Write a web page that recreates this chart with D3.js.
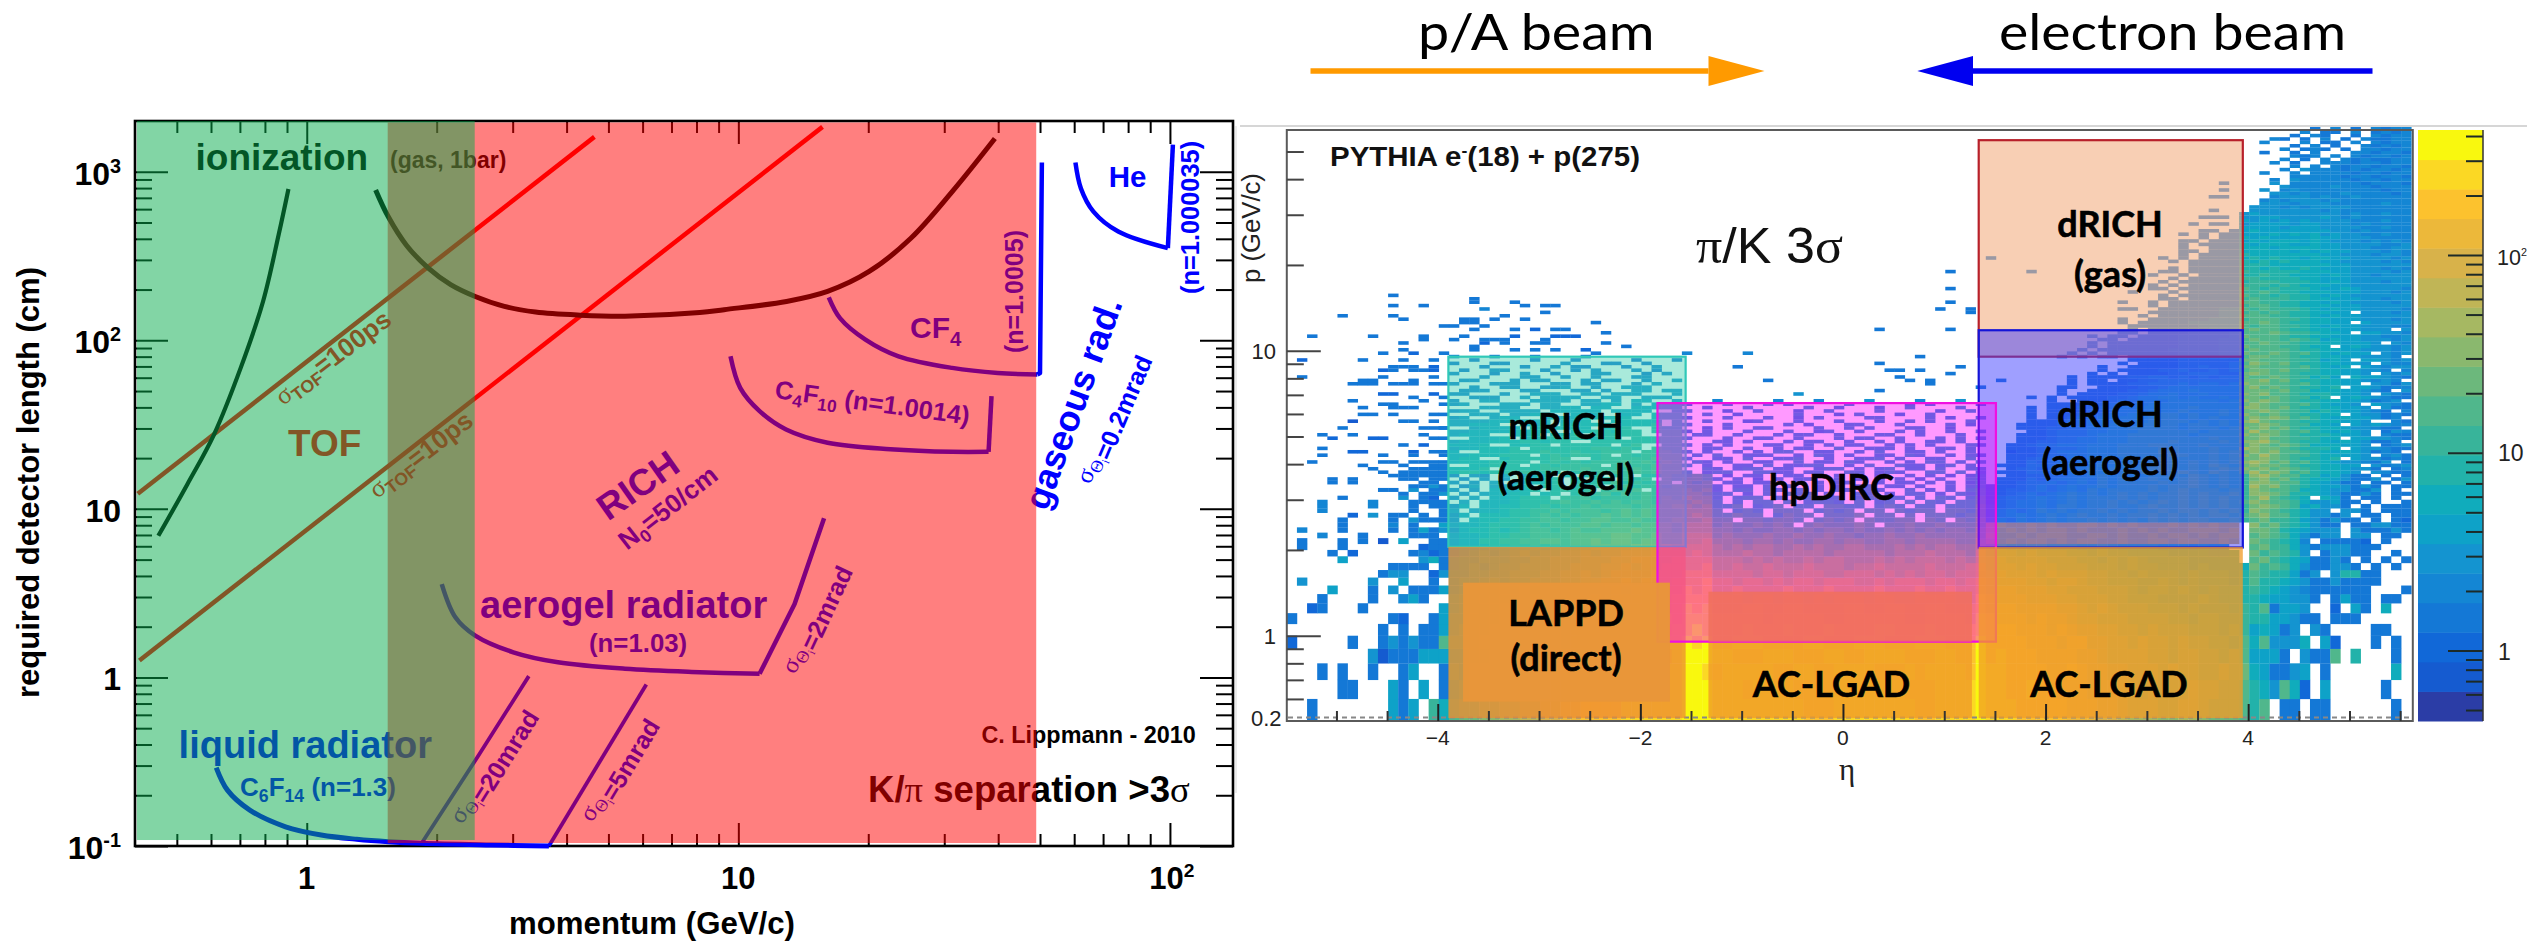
<!DOCTYPE html>
<html><head><meta charset="utf-8">
<script src="https://cdnjs.cloudflare.com/ajax/libs/d3/7.8.5/d3.min.js"></script>
<style>
html,body{margin:0;padding:0;background:#fff;overflow:hidden}
svg{display:block}
text{font-family:"Liberation Sans",Arial,sans-serif}
</style></head><body><svg id="c" width="2527" height="944"></svg>
<script>
/* ---------- left chart : values (momentum GeV/c, length cm) ---------- */
const tof100 = [[0.406,12.3],[4.64,1610]];
const tof10 = [[0.4095,1.26],[15.67,1846]];
const ionLeft = [[0.453,6.92],[0.529,14],[0.61,27.7],[0.703,68.6],[0.792,170],[0.861,424],[0.907,790]];
const ionRight = [[1.444,780],[1.544,542],[1.70,368],[1.913,268],[2.155,214],[2.457,182],[2.87,159],[3.39,147],[4.30,141],[5.46,139],[8.14,146],[9.27,152],[12.93,170],[16.1,195],[20.1,256],[25.1,403],[31.3,762],[39.3,1574]];
const cf4 = [[16.2,180],[17.2,135.5],[19.7,101],[23.5,80.4],[31.3,68.6],[39.9,64],[49.3,62.7],[50,64],[50.5,1135]];
const c4f10 = [[9.59,80.4],[10.1,52.2],[11.2,38],[12.9,29.6],[16.1,24.7],[22.5,22.6],[31.3,21.8],[38,21.8],[38.6,46.6]];
const helium = [[60.4,1135],[62.2,796],[66.5,580],[75.9,442],[98.9,352],[101.6,1450]];
const aerogel = [[2.055,3.58],[2.21,2.275],[2.457,1.77],[3.01,1.41],[3.82,1.23],[5.46,1.126],[8.14,1.075],[11.2,1.05],[12.35,1.73],[13.5,2.73],[15.8,8.81]];
const liquid = [[0.617,0.292],[0.655,0.2145],[0.738,0.1633],[0.893,0.13],[1.08,0.1162],[1.306,0.1096],[1.544,0.106],[1.846,0.1037],[2.67,0.1014],[3.64,0.1]];
const mrad20 = [[1.846,0.1037],[2.487,0.3375],[3.27,1.018]];
const mrad5 = [[3.64,0.1],[6.12,0.909]];
const greenBand = {p:[0.404,2.45],L:[0.1085,2000]};
const redBand = {p:[1.54,49],L:[0.1042,1960]};
const leftMajorX=[1,10,100], leftMinorX=[0.5,0.6,0.7,0.8,0.9,2,3,4,5,6,7,8,9,20,30,40,50,60,70,80,90];
const leftMajorY=[0.1,1,10,100,1000];
const leftMinorY=[0.2,0.3,0.4,0.5,0.6,0.7,0.8,0.9,2,3,4,5,6,7,8,9,20,30,40,50,60,70,80,90,200,300,400,500,600,700,800,900];

/* ---------- right chart : axes, boxes ---------- */
const etaMajor=[-4,-2,0,2,4], etaMinor=[-5,-4.5,-3.5,-3,-2.5,-1.5,-1,-0.5,0.5,1,1.5,2.5,3,3.5,4.5,5,5.5];
const pTickValues=[0.5,1,10], pTickLabels=["0.2","1","10"];
const pMinor=[0.6,0.7,0.8,0.9,2,3,4,5,6,7,8,9,20,30,40,50];
const colorBands=["#2b3da6","#155bd0","#1168d8","#1478d6","#1486d4","#1494d0","#0ea2c8","#10acbc","#22b2aa","#38b49a","#50b78c","#6cb87c","#8ab86e","#a6b862","#c0b556","#d8b24a","#ecb83a","#fcc22e","#fbd824","#f9f80e"];
const zMajor=[1,10,100], zMinor=[0.5,0.6,0.7,0.8,0.9,2,3,4,5,6,7,8,9,20,30,40,50,60,70,80,90,200,300,400];
const pEdgesLow=[0.5,0.6,0.7,0.8,0.9,1,1.1,1.2,1.3,1.4,1.5,1.6,1.7,1.8,1.9,2,2.1,2.2,2.3,2.4,2.5,2.6,2.7,2.8,2.9,3,3.1,3.2,3.3,3.4,3.5,3.6,3.7];

/* histogram levels (0-9a-j = colour band, . = empty), bottom row first */
const histLowLeft=[
"..3.......636.97",".....33...63.6.3","...3.3..3..36..3","........51333666","2.....3..353533a",
".........3.3.336","3.........32..36","..23...3.......6","...3....3..463..","....6...3.5.3336",
".5......5..6..3.",".........355..25","..........3333.3",".....6.......573","....3.2.....3423",
".3...3.......233",".3...3.3.1.6..33","...4...3....333.",".4...3....3.3635",".....3....4.3..6",
".....3....3.5333","......2.5.33.3.3","...4........3..3","...4....4...3.33","...4....4...3333",
".....3.....5.32.","...........3.335",".........33.5.33","............3353","....3.3......33.",
"....3.3....33.33","..........333333"];

const histLowMid=[
"abbccddeeffgghhhhiiiiii jjj iiiiiiiiihhhiiiiiiiihhiiii j iiihhhhhgggffedddccddcbbba",
"9abcbcddeefgghhgiihiiii jjj iiihiiiihhhhiiiiiiihhhiiii j iihhihhgggfffedcdcccdccbba",
"a9bbccdedefgghghhhiihii jji hiiiiihhiihhiiiihhhihiiiih j iihhhhgghgffeedddcdccbbcbb",
"99aabbcddeefgfghhhiiihi jjj iihhhiiihhhiihhiiiihhhiihh j hihhhggggffeddddccbccbbaba",
"aa9bccbddeeefgghghhhiii jij hhiiihhhhiihhhiiihhhiiihhh j hhhhgggfggeeddcdccbcbbaa9a",
"9a9abbccddeefggghhhhihi iji hhhihhhihhhihhhhiihhhihhhh i hhhgggfgfeeddccbcbbbaaa9a9",
"99a9abbccdeeefgfgghhhih iii hhhhhghhhhhgghhhhhhgghhhhg i hgggfgffeddcccbbbbaa9aa999",
"8999abbbcdddeffffgghhgh ihi ggghhgghhgggghhgghhgghhggg h gggffffeedcdcbbbaaa9a99989",
"898a9aabbcddeefefgfgggh hhh gggfggfggfgfgggfggffggggff h gfffeeeddcccbbaaa9999a9888",
"78899aababccddeefeffggg hgh ffgffffgfffgffffgfffgffgff g fffeeeddcccbbba9aa9a989888",
"7889a9aabbbccddeefefffg ggh ffeffefeffefffeefefffeffef g feeeddcddcbbaaa99a98988878",
"778899aaabbccdcdeeeefff ggg eeeedeedeeeddeeedededeedee f eedddcdcccbbaa9a9998988878",
"6787899aaabbcccddedeeff ffg ddeddedddedddcddeddddeddde f dddcdccbbbaaa9a99888787777",
"67788899aabbbcccddeeeef fff dddcdcdccdcddcccdcdcdddcdc e ddccccbbbaa9a9a9888877777",
"5678789a9aabbcbccdddeee efe cccdccbccccbcccccbcccdcccb e cccbcbbbaa9a9988887777667",
"56678899a9aabbccccddded eee cbcbccbbcbcbbccbbbcbcbccbb d ccbbbbaaa99a988887776766",
"5668899aabbabbcbccbccbb dde bbbabbabaabbabbaabbabbbbaa d ffgfggfgfggffgffggfggffgf",
"56678899aaaabbbbccbbcbb ddd abaaabaabaabaa9aabaabaaaaa c gffgfgggffggfgffgfggfgfgg",
"46778789aa9abaabbbcbbba ccc aa9a99aa9a9aa9a99a9a9a9aa9 c ffgfgfggfgfffgfgfgffgggfg",
"56678889a9aaabbabbabbba ccc 9a99a9a9.9a999a9.99a99a999 b fgffgfgffggfgfgfffgfgfgff",
"4.6778899aa9aabbaabaaab bbc 99.998998.8989.98899.98.98 b 5657678788989898a9a9aa99a9",
"46.777889a9a9aabababaaa bcb 88988.7988.8889.88.8.88878 a 4567678789889899a9a9a9aa9a",
"5.56678899a9aaa9ababaaa bbb 8.787.888.7878.88.8788.887 a 45656878788989899a9aa9a9a9",
"46.6677889899a9aaa9aaab bab 778.678.77.8877.787.77.777 a 4456676887889889a99a9a9a99",
".5.66678889a99a9a9aa9aa aba 7.6.77.7.6776.7.67.7.76.77 9 34566767878898989a9a9a9a9a",
"4.5.667888.99a89999a9a9 baa 6.677.6..7.66.67676.6.76.6 9 3455676787888989899a9a9a99",
".4.56677.78.8a9a8a9a999 aa9 66.5.6.766.5..66.5.66.5.65 8 3345656787878989899a9a99a9",
"4.4.66678.8989.9a9a.999 a9a 5.66.65.6.5.65.65..6.5.5.6 8 3344565676878888989a999899",
".35.5567.88.889.9a89989 999 5.55.6.5..5.5.56.55.5..5.5 7 33345656767878889899a98989",
"4.4.5.56778.8788a89899. 989 .55.55..5.5.55..5.55.5.5.4 7 .3345565676878888989a98989",
".3.4.4.6678.7.88.989.98 998 5.5.4.5.55..5.4.5.5.4.5..5 6 .3335456676878789889a98989",
"3.43.5.566.7.78.89.8898 898 .4.55..55.4.5.5.4..5.5.4.4 6 ..334455667878778898a98989"];

const histLowRight=[
"8a.33.33......3..","875a72.6.....3...","763356.3......7..","6663.533a.8...3..","7a5557.62...3.3..",
"67635.53....33...","8866533.333......","8a3665..2.63.7...","8766553.3633.33..","987654333333...3.",
"a887653353333....","a988635.58833....","b9a97533553.3.3..","ab98763353.3.3.33","b9a985.35533..3..",
"ab99753555333....","ba9874.33332.3...","aba975355.55.33..","bba876555.533353.","cab987533.33553 3.",
"ab998653533.3.322","bcaa875535.33.333","cba98755.553.333.","bcba967553.3.3333","cbaa9755633.3..3.",
"bda987.763.33.3.3","ccba887653353.333","cbaa977655335.3.3","dbca987665353.333","ccbaa876533.33.3.",
"bcab987765335.353","cdbaa8867533.3.33"];

/* log-spaced rows above p = 3.7, index 0 at the bottom. mRICH | strip+hpDIRC | forward (ends at eta 3.95) */
const histUpperMid=[
"78878899988.899aa9a9a99 7.566..6655.56..66.565..66.6.5 3335556678778898a9a98a989",
"7778.88889999a9999a9a99 ..65.566.55..566.5.56.55.6..56 .345456678787889a98989a98",
"..77888.8989999.9a99a99 6.5..55.6.5566..5.6..655.56.5. 3335556777878889a9898a988",
"67778888.89898999a9a9a9 .65.5..55..6.55.65..5.5.66.5.6 .335456677787888a9898989a",
"677..7888899..899999a99 5..55.6..556..5..556.5..55..6. 334555667877889a98889898",
"66777888.8989989.989999 .5.6..555..5.65.5..55.65..5.55 3334556677788889a9889898",
"6..777888988988999.9998 5.5..5.5.66..55..5.6..55.5..5. 233456667778888a98889898",
"5667778.88888899898.988 ..55..5..5.55..6..555.5..55.5. 333455567778888998889888",
"6667..7788.88888.89..88 5.5.5...55..5.5.55..5.5.5...55 334556667778889988898889",
"566677788788..888888888 ...55.5...5.55..5..5.5..55.5.. .33445566777888898888988",
"..6667.7788888788.88888 5...5..55..5...5.55..5...5.5.5 33345566777888888889888",
"5666..777.778.88888..88 .55..5...5.55..5...55..5...5.. 33345556777888888788888",
"5566667777..7788788.888 4.5...5...5..45..5...5.5..5..5 .3345556677788888878888",
"..56666.777777.788..877 ..4.5..55....5..5.5...55..4... 33344556677888887888788",
"55666..666.77777.7778.7 5...5.....5.4...55...5....5.4. 33334556677788887887878",
"5555666666.667..77777.7 ..5...45...5...5...5..5.5...5. 3334556667778888787877",
"45..566..666677777..777 4...5...5..4.5....55....5.4..5 3.33455667778887878777",
"..555.5566..666..66.777 ..5..4.....5...4.5...4..5..... 3.33345566777887877877",
"455..5555.66666.6666..6 5...4..5...4..5....5.....4..5. ..33334456667778777877",
"...5555..5566.66..66666 ..4...5.....5..4...4..5....5.. 3.33344556677777877777",
"45...555.55..5566.5.666 4...5...5.4.....5.....4.4....4 33334455667777777776",
"4..55...5555.55.5.66..5 ...4.....4...4....5....4...5.. 3..33345566677777676",
"..444..5.5555..55..555. .............................. 3.333344566776766766",
"44...4..555..55.555...5 ...........5.................. 3.33334456676676666",
".444...44...44.4..55.55 ...................3.......... 3..3333445666766666",
"..4..44..445..4..555... .............................3 3..333344566666666",
"4...444...44.44...4.5.. ........................3..... 3.3333445556566566",
".44...4.44...4.44..4..5 ........3.............3.3..... 3.33.3344555555555",
"...4...44..4..4...44... .....................3........ 3.3333445545454554",
"4...3..4..3...44...3.4. ..........................3... .3.333344555445",
".3..44...3..3.4...4.3.. ....................33.3...... 3.3333445445454",
"...3...3..4.33...3..4.. .....3.....................3.. 3..333334454454",
"3...33.....4...33..3... ...................3.......... 3.33334444454",
"..3.....3...3.....3...3 .............................. 333334444445"];

const histRight=[
"bdbcb9a87765.5433","cbcaba98776553.34","bcbba9887766.5345","cdcab9a87655435.3","bbcba98878.655343",
"cbdba99877665.453","bcbcaa9876765343.","dcbba98887.655433","bcbaba9777665.345","ccdba98876765334.",
"bbcaa99877.665543","cbcba98887665.433","bdbba9a876765.354","cbcab98877655433.","bbcba99776.656544",
"cdbaa98877665..43","bcbcb9a876766534.","cbaba98877.655343","bbcba9978766543.4","ccbab98877665.533",
"bcbaa9a87665.6543","cbcba98877665345.","bbaba9978.6765433","cbcaa98887665.543","bbbab9977766543.5",
"bcaba98878.665344","cbbaa9a87766.5535","bbcab98877665454.","baaba99786.766543","bcbaa98877665.545",
"abbab9987766554.4","bbaaa9a8767.65455","acbab98877665.544","bbaaa998676.66545","abbaa98877665554.",
"baaba9a876766.545","abaaa988776655545","baaa99877.6765545","aabaa988776665.54","abaa9a98676655545",
"baaa9887766655445","aaaba998776.66554","abaa98877666555.5","a9aa9987676655544","aaba9887766.65555",
"9aaa9987766655545","aaa99887676655555","9a9a9887766.55545","a9a99987676655554","9aa98877766655555",
"aa998877676555545","9a999887766655455","a9989887676555555","99a98877766655545","a9898887667655554",
"99989877766555555","89998887676555455","99888877666555555","88988777676554555","98888877766555545",
"88787787666555454","88877777766555555","87878777665555454","78787767766555545","87777777665554554",
"77777676766555454","77767777665554455","76777667665555445","67677767655545454","76766667665554444",
"66676767565544544","67666666655454444","66665666555544544","56666566555454444","65656565555444544",
"55665555654544444","56555555554544544",".5555555454444444",".5554545555444444","..555455544444544",
"..454555454444444","...45554544544444","...55454445444434","..5.4544444444344","....5444454443444",
"...5.444444434443","...4.544444344344",".....444443443443","..4..4.4444344344","....4.54443434434",
".....4.4.43443443","...4.3..444344344","....4.3.4.4343344",".....434.4.434434","..3..3.4...443443",
"....4.343.3.44344",".....3.4.3..43434","..4...4.33.4.4344","...43.3.4.3.43344",".....3.43..3.4344",
"......4.33.4.3434",".......3.4.3.4344"];

/* sparse cells, "column:levels" per row above p = 3.7 */
const sparseRows={
0:"9:3 11:33333",1:"8:3 12:3333",2:"7:3 11:3 14:33",3:"2:3 9:33 12:33 14:33",5:"3:3 9:3 12:3 15:3",6:"6:22 12:2 14:33",7:"3:3",8:"11:3 13:2",
10:"4:2 8:22 14:33",11:"3:3 6:3 13:3",13:"5:3 13:3 14:33 15:3",15:"6:1 11:33 14:3",17:"7:33 10:3 14:33",18:"73:3",19:"7:3 10:333",20:"9:33 15:3",21:"6:3 13:3",
22:"12:3 15:3 73:3",23:"9:22 14:2",25:"76:3",26:"6:333 10:333 14:33",27:"7:33 12:3 70:3",28:"1:3 9:3 14:3",29:"79:3",30:"9:23 12:33 14:2",31:"10:333 14:2",33:"1:2 7:3 11:3 14:3",
34:"62:3 16:4 20:3 24:3 29:3",35:"9:3 12:2 15:3 30:3 39:4 45:4 81:3",36:"11:3 18:3 22:3 24:3 26:3 29:2",37:"18:3 33:3",38:"11:3 19:2 21:3 24:33 31:3",39:"13:3 16:3 19:33 21:3 25:3",
40:"2:3 8:3 13:3 17:3 22:2 26:2 27:22",41:"31:3",42:"18:3 22:3 24:2 26:3 27:3 58:3 65:3",43:"15:33 19:3",44:"17:33 30:3",45:"11:3 17:3 18:3 20:3 23:3",46:"5:3 10:3 21:3",47:"25:3 67:3",
48:"19:4 64:3 67:3",49:"10:3 13:3 23:3 25:33",50:"18:3 22:3 65:3",51:"18:3",52:"10:3",54:"65:3",59:"65:3 73:3",63:"69:3"};
/* staircase inside the dRICH boxes, each string ends at eta 3.95; index is the row */
const stair={
34:"3.3.33.33333444455",35:"3.3.3333333444455",36:"3.33333334444455",37:"3.3333333444455",38:"3.3333333444455",
39:"33.33333444455",40:"3.33.3333444445",41:"33.333344445",42:"3.333333444",43:"33333334444",
44:"3.3333344444",45:"3..333333444",46:"3.33333344",47:"333333344",48:"33..33333344",
49:"3.3333333",50:"3..3.3333333",51:"33.33333",52:"3.333333",53:"3...3.33333",
54:"33.333333",55:"3.3.33333",56:"3.333333",57:"3.33333",58:"3..3.3333",
59:"33.33333",60:"3.33333",61:"33333",62:"3.33333",63:"3.3.3333",
64:"3.3333",65:"33.333",66:"3..333",67:"3.3333",68:"33.333",
69:"3.33",70:"3.3.33",71:"33.3",73:"3.33.",75:"333.",77:"3..",81:"33.",83:"3.",85:"3."};

const gasBox={eta:[1.34,3.947],p:[54.8,9.53],fill:"rgb(243,175,130)",a:.6,stroke:"#b8202a"};
const aeroBox={eta:[1.34,3.947],p:[11.8,2.04],fill:"rgb(64,64,255)",a:.5,stroke:"#1414d8"};
const mrichBox={eta:[-3.895,-1.553],p:[9.53,2.05],fill:"rgb(64,208,176)",a:.45,stroke:"#30c8b8"};
const leftOrange={eta:[-3.895,-1.553],p:[2.05,0.514],fill:"rgb(236,140,50)",a:.76};
const centerOrange={eta:[-1.328,1.273],p:[0.953,0.514],fill:"rgb(240,155,40)",a:.8};
const hpBox={eta:[-1.831,1.51],p:[6.55,0.953],fill:"rgb(255,0,255)",a:.4,stroke:"#f010e0"};
const salmon={eta:[-1.328,1.273],p:[1.427,0.953],fill:"rgb(240,112,92)",a:.85};
const fwdOrange={eta:[1.34,3.947],p:[2.05,0.514],fill:"rgb(240,155,40)",a:.76};
const lappd={eta:[-3.75,-1.708],p:[1.535,0.587],fill:"rgb(232,150,58)",a:.97};

/* ---------- drawing ---------- */
const svg=d3.select("#c");
const BLUE="#0000ff",RED="#ff0000",BLACK="#000";
const x=d3.scaleLog().domain([0.4,140]).range([135,1233]);
const y=d3.scaleLog().domain([0.1,2000]).range([846,121]);
const L=svg.append("g");
const smoothLine=d3.line().x(d=>x(d[0])).y(d=>y(d[1])).curve(d3.curveCatmullRom.alpha(.5));
const straightLine=d3.line().x(d=>x(d[0])).y(d=>y(d[1]));

function label(g,px,py,rot,parts,o){
  o=o||{};
  const t=g.append("text").attr("transform",`translate(${px},${py}) rotate(${rot||0})`)
    .attr("fill",o.fill||"#000").attr("font-weight",o.weight||"bold").attr("font-size",o.size)
    .attr("text-anchor",o.anchor||"start");
  if(o.family)t.style("font-family",o.family);
  if(o.stroke)t.attr("stroke",o.fill||"#000").attr("stroke-width",o.stroke);
  if(o.len)t.attr("textLength",o.len).attr("lengthAdjust","spacingAndGlyphs");
  let cur=0;
  parts.forEach(p=>{
    if(typeof p==="string")p={t:p};
    const shift=p.d||0;
    const s=t.append("tspan").text(p.t).attr("dy",shift-cur).attr("xml:space","preserve");
    if(p.s)s.attr("font-size",o.size*p.s);
    if(p.serif)s.style("font-family",'"Liberation Serif",serif').attr("font-weight","normal");
    cur=shift;
  });
  return t;
}

/* frame and ticks */
function ticks(axis,tx,ty,vals,size){
  const a=L.append("g").attr("transform",`translate(${tx},${ty})`).call(axis.tickValues(vals).tickSize(size).tickFormat(""));
  a.select(".domain").remove();
  a.selectAll("line").attr("stroke","#000").attr("stroke-width",2);
}
ticks(d3.axisLeft(y),135,0,leftMajorY,-33);ticks(d3.axisLeft(y),135,0,leftMinorY,-17);
ticks(d3.axisRight(y),1233,0,leftMajorY,-33);ticks(d3.axisRight(y),1233,0,leftMinorY,-17);
ticks(d3.axisBottom(x),0,846,leftMajorX,-23);ticks(d3.axisBottom(x),0,846,leftMinorX,-12);
ticks(d3.axisTop(x),0,121,leftMajorX,-23);ticks(d3.axisTop(x),0,121,leftMinorX,-12);
L.append("rect").attr("x",135).attr("y",121).attr("width",1098).attr("height",725).attr("fill","none").attr("stroke","#000").attr("stroke-width",2.6);

/* curves: [values, colour, width, number of points on the smooth arc] */
[[tof100,RED,4.5,0],[tof10,RED,4.5,0],[ionLeft,BLACK,4.2,7],[ionRight,BLACK,5,18],[cf4,BLUE,4.5,7],[c4f10,BLUE,4.5,8],[helium,BLUE,4.5,5],[aerogel,BLUE,4.5,8],[liquid,BLUE,5,10],[mrad20,BLUE,3.8,0],[mrad5,BLUE,3.8,0]]
 .forEach(([d,c,w,n])=>{
   if(n>0)L.append("path").attr("d",smoothLine(d.slice(0,n))).attr("fill","none").attr("stroke",c).attr("stroke-width",w);
   if(n<d.length)L.append("path").attr("d",straightLine(d.slice(Math.max(n-1,0)))).attr("fill","none").attr("stroke",c).attr("stroke-width",w).attr("stroke-linejoin","round");
 });

/* left chart texts */
const sigmaTheta=[{t:"σ",serif:1},{t:"Θ",serif:1,s:.7,d:5},{t:"i",serif:1,s:.45,d:9},{t:"",d:0}];
label(L,195.5,170,0,["ionization"],{size:37});
label(L,390,167.7,0,["(gas, 1bar)"],{size:23});
label(L,288,456,0,["TOF"],{size:37,fill:RED});
label(L,283,406,-37,[{t:"σ",serif:1},{t:"TOF",s:.68,d:5},{t:"=100ps",d:0}],{size:26,fill:RED});
label(L,377,499,-37.5,[{t:"σ",serif:1},{t:"TOF",s:.68,d:5},{t:"=10ps",d:0}],{size:26,fill:RED});
label(L,608,521.7,-35,["RICH"],{size:37,fill:BLUE});
label(L,627,550.7,-38,["N",{t:"0",s:.68,d:6},{t:"=50/cm",d:0}],{size:26,fill:BLUE});
label(L,910,338.3,0,["CF",{t:"4",s:.68,d:8},{t:"",d:0}],{size:30,fill:BLUE});
label(L,1023,353,-90,["(n=1.0005)"],{size:25,fill:BLUE});
label(L,774,398,7.8,["C",{t:"4",s:.68,d:6},{t:"F",d:0},{t:"10",s:.68,d:6},{t:" (n=1.0014)",d:0}],{size:25.6,fill:BLUE});
label(L,1047,512,-70,["gaseous rad."],{size:36,fill:BLUE});
label(L,1090,485,-67,[...sigmaTheta,"=0.2mrad"],{size:25,fill:BLUE});
label(L,1108.7,187,0,["He"],{size:29.5,fill:BLUE});
label(L,1199,294,-90,["(n=1.000035)"],{size:25.4,fill:BLUE});
label(L,480,618,0,["aerogel radiator"],{size:38,fill:BLUE});
label(L,589,651.7,0,["(n=1.03)"],{size:25.8,fill:BLUE});
label(L,178.6,758,0,["liquid radiator"],{size:38,fill:BLUE});
label(L,240,796,0,["C",{t:"6",s:.68,d:6},{t:"F",d:0},{t:"14",s:.68,d:6},{t:" (n=1.3)",d:0}],{size:26,fill:BLUE});
label(L,462,825,-58,[...sigmaTheta,"=20mrad"],{size:25,fill:BLUE});
label(L,592,823,-59,[...sigmaTheta,"=5mrad"],{size:25,fill:BLUE});
label(L,795,675,-65,[...sigmaTheta,"=2mrad"],{size:25,fill:BLUE});
label(L,981.4,742.7,0,["C. Lippmann - 2010"],{size:23.4});
label(L,868,801.7,0,["K/",{t:"π",serif:1},{t:" separation >3"},{t:"σ",serif:1}],{size:36.6});
label(L,39,698,-90,["required detector length (cm)"],{size:32,len:431});
label(L,509,934,0,["momentum (GeV/c)"],{size:31,len:286});

/* tick labels */
const yLabels=[[1000,"10","3"],[100,"10","2"],[10,"10",""],[1,"1",""],[0.1,"10","-1"]];
const xLabels=[[1,"1",""],[10,"10",""],[100,"10","2"]];
yLabels.forEach(([v,a,b])=>label(L,121,y(v)+13,0,[a,{t:b,s:.62,d:-12},{t:"",d:0}],{size:32,anchor:"end"}));
xLabels.forEach(([v,a,b])=>label(L,x(v)+(b?2:0),889,0,[a,{t:b,s:.62,d:-12},{t:"",d:0}],{size:31,anchor:"middle"}));

/* translucent bands go over everything above, like the original overlay */
L.append("rect").attr("x",x(redBand.p[0])).attr("y",y(redBand.L[1])).attr("width",x(redBand.p[1])-x(redBand.p[0])).attr("height",y(redBand.L[0])-y(redBand.L[1])).attr("fill","rgb(255,0,0)").attr("fill-opacity",.5);
L.append("rect").attr("x",x(greenBand.p[0])).attr("y",y(greenBand.L[1])).attr("width",x(greenBand.p[1])-x(greenBand.p[0])).attr("height",y(greenBand.L[0])-y(greenBand.L[1])).attr("fill","rgb(5,171,75)").attr("fill-opacity",.5);

/* ---------- right chart ---------- */
const R=svg.append("g");
const ex=d3.scaleLinear().domain([-5.49,5.625]).range([1286.8,2412.8]);
const py=d3.scaleLog().domain([0.5,59.5]).range([721.5,130]);
const colW=ex(0.1)-ex(0);
R.append("line").attr("x1",1240).attr("x2",2527).attr("y1",126).attr("y2",126).attr("stroke","#c8c8c8").attr("stroke-width",1.5);
R.append("line").attr("x1",1236).attr("x2",1236).attr("y1",126).attr("y2",793).attr("stroke","#e6e6e6").attr("stroke-width",1.5);

const upperEdge=r=>3.7*Math.pow(10,0.01193*r);
function cell(col,pLo,pHi,lev){
  R.append("rect").attr("x",ex(-5.49+col*0.1)).attr("width",colW+.3).attr("y",py(pHi)).attr("height",py(pLo)-py(pHi)+.2).attr("fill",colorBands[lev]);
}
function putRow(str,start,pLo,pHi){
  for(let i=0;i<str.length;i++){const ch=str[i];if(ch==="."||ch===" ")continue;const lev=parseInt(ch,36);if(lev<20&&start+i<=110)cell(start+i,pLo,pHi,lev);}
}
histLowLeft.forEach((s,i)=>putRow(s,0,pEdgesLow[i],pEdgesLow[i+1]));
histLowMid.forEach((s,i)=>{const seg=s.split(" "),st=[16,39,42,68,69],ln=[23,3,26,1,26];seg.forEach((q,k)=>putRow(q.slice(0,ln[k]),st[k],pEdgesLow[i],pEdgesLow[i+1]));});
histLowRight.forEach((s,i)=>putRow(s.replace(/ /g,""),95,pEdgesLow[i],pEdgesLow[i+1]));
histUpperMid.forEach((s,i)=>{const seg=s.split(" ");
  putRow(seg[0],16,upperEdge(i),upperEdge(i+1));putRow(seg[1],39,upperEdge(i),upperEdge(i+1));
  putRow(seg[2],95-seg[2].length,upperEdge(i),upperEdge(i+1));});
histRight.forEach((s,i)=>putRow(s,94,upperEdge(i),upperEdge(i+1)));
Object.keys(sparseRows).forEach(r=>{sparseRows[r].split(" ").forEach(tok=>{const [c,l]=tok.split(":");putRow(l,+c,upperEdge(+r),upperEdge(+r+1));});});
Object.keys(stair).forEach(r=>putRow(stair[r],94-stair[r].length,upperEdge(+r),upperEdge(+r+1)));

/* dashed underflow line */
R.append("line").attr("x1",1288).attr("x2",2412).attr("y1",717.5).attr("y2",717.5).attr("stroke","#888").attr("stroke-width",2).attr("stroke-dasharray","5 4");

function box(b){
  const r=R.append("rect").attr("x",ex(b.eta[0])).attr("y",py(b.p[0])).attr("width",ex(b.eta[1])-ex(b.eta[0])).attr("height",py(b.p[1])-py(b.p[0]))
   .attr("fill",b.fill).attr("fill-opacity",b.a);
  if(b.stroke)r.attr("stroke",b.stroke).attr("stroke-width",2.2);
}
[gasBox,aeroBox,mrichBox,leftOrange,centerOrange,hpBox,salmon,fwdOrange,lappd].forEach(box);

/* frame and axes */
R.append("rect").attr("x",1286.8).attr("y",130).attr("width",1126).attr("height",591).attr("fill","none").attr("stroke","#5a5a5a").attr("stroke-width",2);
function rticks(axis,tx,ty,vals,size,col){
  const a=R.append("g").attr("transform",`translate(${tx},${ty})`).call(axis.tickValues(vals).tickSize(size).tickFormat(""));
  a.select(".domain").remove();a.selectAll("line").attr("stroke",col||"#444").attr("stroke-width",2);
}
rticks(d3.axisLeft(py),1286.8,0,pTickValues.slice(1),-34);rticks(d3.axisLeft(py),1286.8,0,pMinor,-17);
rticks(d3.axisBottom(ex),0,721,etaMajor,-17,"#222");rticks(d3.axisBottom(ex),0,721,etaMinor,-10,"#333");

const TK={size:22,weight:"normal",fill:"#222"};
pTickLabels.forEach((t,i)=>{label(R,i==0?1281.5:1276,py(pTickValues[i])+(i==0?4:8),0,[t],{...TK,anchor:"end"});});
etaMajor.forEach(v=>label(R,ex(v),745,0,[v<0?"−"+(-v):""+v],{...TK,anchor:"middle",size:21}));
label(R,1260,283,-90,["p (GeV/c)"],{size:25.7,weight:"normal",fill:"#222"});
label(R,1847,780,0,["η"],{size:31,weight:"normal",anchor:"middle",family:'"Liberation Serif",serif',fill:"#222"});
label(R,1330,166,0,["PYTHIA e",{t:"-",s:.6,d:-10},{t:"(18) + p(275)",d:0}],{size:27.5,fill:"#111",len:310});
label(R,1696,263,0,[{t:"π",serif:1},"/K 3",{t:"σ",serif:1}],{size:50,weight:"normal",fill:"#111",len:147});

/* colour bar */
const bandY=d3.scaleLinear().domain([0,20]).range([721,130]);
R.selectAll("rect.band").data(colorBands).join("rect").attr("class","band").attr("x",2418).attr("width",65)
 .attr("y",(d,i)=>bandY(i+1)).attr("height",(d,i)=>bandY(i)-bandY(i+1)+.5).attr("fill",d=>d);
const z=d3.scaleLog().domain([0.44,429]).range([721,130]);
rticks(d3.axisRight(z),2483,0,zMajor,-35,"#1c2a28");rticks(d3.axisRight(z),2483,0,zMinor,-17,"#1c2a28");
R.append("line").attr("x1",2483).attr("x2",2483).attr("y1",130).attr("y2",721).attr("stroke","#333").attr("stroke-width",1.5);
label(R,2498,z(1)+9,0,["1"],{...TK,size:23});
label(R,2498,z(10)+8,0,["10"],{...TK,size:23});
label(R,2497,z(100)+10,0,["10",{t:"2",s:.5,d:-9}],{...TK,size:21.5});

/* box names and beam titles */
const BF={size:36,anchor:"middle",family:'Lato,"Open Sans",sans-serif',stroke:.6};
[["dRICH",2110,236.7],["(gas)",2110,287],["dRICH",2110,426.7],["(aerogel)",2110,475],["mRICH",1566,439],["(aerogel)",1566,490],["hpDIRC",1831.5,500],
 ["LAPPD",1566,626],["(direct)",1566,670.7],["AC-LGAD",1831.5,697.3],["AC-LGAD",2109,697.3]].forEach(([t,a,b])=>label(R,a,b,0,[t],BF));
label(R,1418,50,0,["p/A beam"],{size:50,weight:"normal",family:'Lato,sans-serif',len:236.6});
label(R,1999,50,0,["electron beam"],{size:50,weight:"normal",family:'Lato,sans-serif',len:347});

const beams=[{x0:1310.5,x1:1708.5,tip:1764.5,c:"#ff9a00"},{x0:2372.5,x1:1973,tip:1917.3,c:"#0000f0"}];
beams.forEach(b=>{
  R.append("line").attr("x1",b.x0).attr("x2",b.x1).attr("y1",71).attr("y2",71).attr("stroke",b.c).attr("stroke-width",5.4);
  R.append("path").attr("d",`M${b.x1},56L${b.tip},71L${b.x1},86Z`).attr("fill",b.c);
});
</script></body></html>
